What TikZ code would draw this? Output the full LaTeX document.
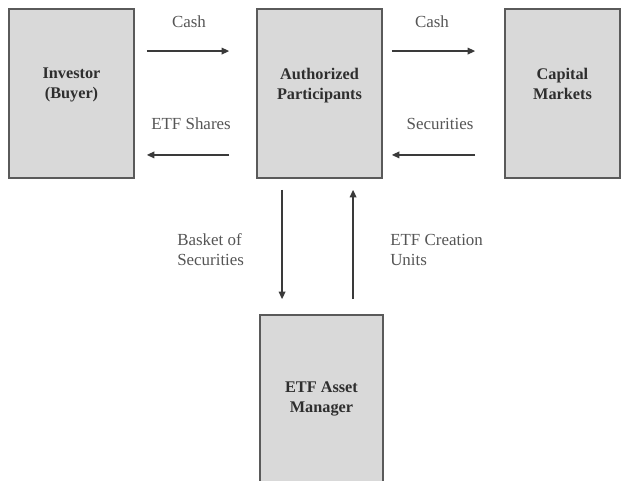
\documentclass[tikz,border=0pt]{standalone}
\usepackage{fontspec}
\setmainfont{Liberation Serif}
\usetikzlibrary{arrows.meta,positioning}
\definecolor{boxfill}{HTML}{D9D9D9}
\definecolor{boxline}{HTML}{5A5A5A}
\definecolor{boxtext}{HTML}{2E2E2E}
\definecolor{flowcol}{HTML}{3A3A3A}
\definecolor{labeltext}{HTML}{555555}
\tikzset{
        % Boxes for the parties
        party/.style={draw=boxline, fill=boxfill, line width=1.4pt, align=center, inner sep=0pt,
                      font=\fontsize{12.2}{15}\selectfont\bfseries, text=boxtext, text depth=15pt,
                      minimum width=93.75pt, minimum height=126.75pt},
        % Arrows between parties
        flow/.style={draw=flowcol, line width=1pt, -{Triangle[length=5.5pt,width=5pt]}},
        % Texts on the arrows
        flowlabel/.style={text=labeltext, inner sep=0pt, align=left,
                          font=\fontsize{12.7}{15}\selectfont}
}
\begin{document}
\begin{tikzpicture}[x=0.75pt, y=-0.75pt]
    \clip (0,0) rectangle (621,481);
    \fill[white] (0,0) rectangle (621,481);
    \node[party] (investor) at (71.5,93.5) {Investor\\(Buyer)};
    \node[party] (ap) at (319.5,93.5) {Authorized\\Participants};
    \node[party, minimum width=86.25pt] (capm) at (562.5,93.5) {Capital\\Markets};
    \node[party, minimum width=92.25pt, minimum height=138.75pt] (mgr) at (321.5,407.5) {ETF Asset\\Manager};
    % horizontal flows
    \draw[flow] ([shift={(12,43)}]investor.north east) -- ([shift={(-27,43)}]ap.north west);
    \draw[flow] ([shift={(-27,-24)}]ap.south west) -- ([shift={(12,-24)}]investor.south east);
    \draw[flow] ([shift={(9,43)}]ap.north east) -- ([shift={(-29,43)}]capm.north west);
    \draw[flow] ([shift={(-29,-24)}]capm.south west) -- ([shift={(9,-24)}]ap.south east);
    % vertical flows
    \draw[flow] ([shift={(26,11)}]ap.south west) -- ([shift={(23,-15)}]mgr.north west);
    \draw[flow] ([shift={(94,-15)}]mgr.north west) -- ([shift={(97,11)}]ap.south west);
    % labels
    \node[flowlabel] (cash1) at (189,22) {Cash};
    \node[flowlabel] (shares) at (191,124) {ETF Shares};
    \node[flowlabel] (cash2) at (432,22) {Cash};
    \node[flowlabel] (secs) at (440,124) {Securities};
    \node[flowlabel, anchor=west] (basket) at (177,250) {Basket of\\Securities};
    \node[flowlabel, anchor=west] (units) at (390,250) {ETF Creation\\Units};
\end{tikzpicture}
\end{document}
